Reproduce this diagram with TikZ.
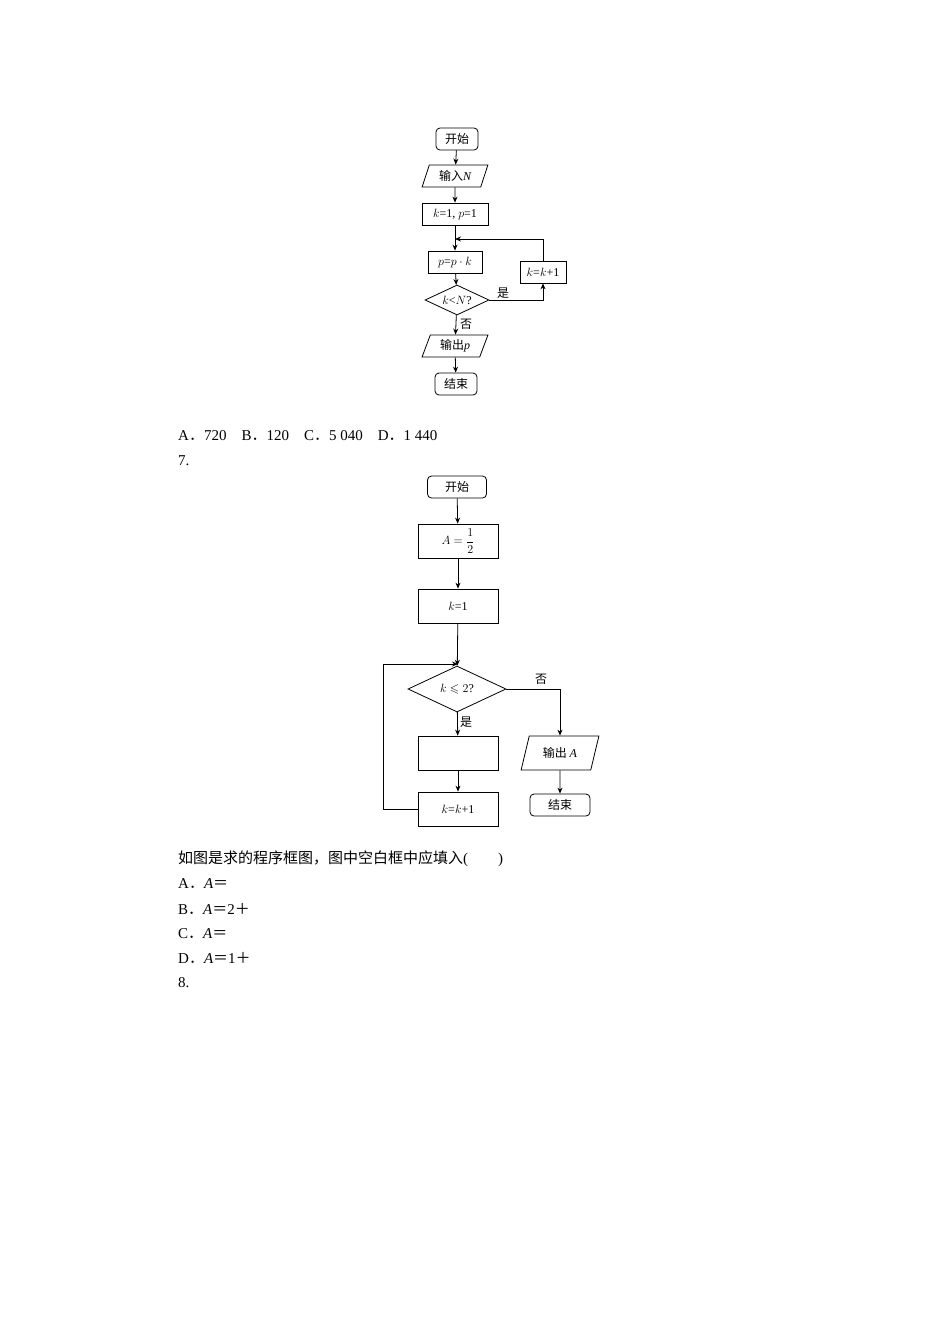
\documentclass[tikz,border=0pt]{standalone}
\usepackage{amsmath,amssymb}
\usepackage{fontspec}
\setmainfont{Liberation Serif}
\newfontfamily\cjk{Noto Sans CJK SC}
\newcommand{\fdot}{{\cjk ．}}
\usetikzlibrary{shapes.geometric,arrows.meta}
\tikzset{
  flow/.style={draw, thick, inner sep=1pt, font=\fontsize{12}{12}\selectfont},
  term/.style={flow, rounded corners=4pt},
  proc/.style={flow},
  io/.style={flow, trapezium, trapezium left angle=70, trapezium right angle=110, trapezium stretches=true},
  test/.style={flow, diamond, aspect=2.2, shape aspect=2.2},
  line/.style={thick, -{Stealth[length=6pt,width=5pt]}},
  body/.style={anchor=west, inner sep=0pt, font=\fontsize{15}{15}\selectfont}
}
\begin{document}
\begin{tikzpicture}[x=1pt,y=-1pt]
        \useasboundingbox[fill=white] (0,0) rectangle (950,1344);
        % First flowchart
        \node[term, minimum width=42, minimum height=22] (start1) at (457,139) {\cjk 开始};
        \node[io, minimum width=66, minimum height=22] (in1) at (455,176) {\cjk 输入\rm\itshape N};
        \node[proc, minimum width=66, minimum height=22] (init1) at (455,214) {$k$=1, $p$=1};
        \coordinate (join1) at (455,239);
        \node[proc, minimum width=54, minimum height=22] (mul1) at (455,262) {$p$=$p\cdot k$};
        \node[test, minimum width=64, minimum height=30] (cond1) at (457,300) {$k$<$N$?};
        \node[proc, minimum width=46, minimum height=22] (inc1) at (543,272) {$k$=$k$+1};
        \node[io, minimum width=66, minimum height=22] (out1) at (455,346) {\cjk 输出\rm\itshape p};
        \node[term, minimum width=42, minimum height=22] (end1) at (456,384) {\cjk 结束};
        \draw[line] (start1) -- (in1);
        \draw[line] (in1) -- (init1);
        \draw[line] (init1) -- (mul1);
        \draw[line] (mul1) -- (cond1);
        \draw[line] (cond1.east) -| (inc1.south);
        \draw[line] (inc1.north) |- (join1);
        \draw[line] (cond1) -- (out1);
        \draw[line] (out1) -- (end1);
        \node[font=\cjk\fontsize{12}{12}\selectfont] (yes1) at (503,293) {是};
        \node[font=\cjk\fontsize{12}{12}\selectfont] (no1) at (466,324) {否};

        % Answers
        \node[body] (ans6) at (178,436) {A\fdot 720\quad B\fdot 120\quad C\fdot 5 040\quad D\fdot 1 440};
        \node[body] (q7) at (178,461) {7.};

        % Second flowchart
        \node[term, minimum width=59, minimum height=22] (start2) at (457,487) {\cjk 开始};
        \node[proc, minimum width=80, minimum height=34] (setA) at (458,541) {$A=\dfrac{1}{2}$};
        \node[proc, minimum width=80, minimum height=34] (setk) at (458,606) {$k$=1};
        \coordinate (join2) at (458,664);
        \node[test, minimum width=98, minimum height=46] (cond2) at (457,689) {$k\leqslant 2$?};
        \node[proc, minimum width=80, minimum height=34] (blank) at (458,753) {};
        \node[proc, minimum width=80, minimum height=34] (inc2) at (458,809) {$k$=$k$+1};
        \coordinate (left2) at (383,809);
        \node[io, minimum width=78, minimum height=34] (out2) at (560,753) {\cjk 输出 \rm\itshape A};
        \node[term, minimum width=60, minimum height=22] (end2) at (560,805) {\cjk 结束};
        \draw[line] (start2) -- (setA);
        \draw[line] (setA) -- (setk);
        \draw[line] (setk) -- (cond2);
        \draw[line] (cond2) -- (blank);
        \draw[line] (blank) -- (inc2);
        \draw[line] (inc2.west) -- (left2) |- (join2);
        \draw[line] (cond2.east) -| (out2.north);
        \draw[line] (out2) -- (end2);
        \node[font=\cjk\fontsize{12}{12}\selectfont] (no2) at (541,679) {否};
        \node[font=\cjk\fontsize{12}{12}\selectfont] (yes2) at (466,722) {是};

        % Question text
        \node[body] (q7text) at (178,859) {\cjk 如图是求的程序框图，图中空白框中应填入\rm(\qquad)};
        \node[body] (optA) at (178,884) {A\fdot\textit{A}\cjk＝};
        \node[body] (optB) at (178,909) {B\fdot\textit{A}{\cjk＝}2{\cjk＋}};
        \node[body] (optC) at (178,934) {C\fdot\textit{A}\cjk＝};
        \node[body] (optD) at (178,958) {D\fdot\textit{A}{\cjk＝}1{\cjk＋}};
        \node[body] (q8) at (178,983) {8.};
\end{tikzpicture}
\end{document}
